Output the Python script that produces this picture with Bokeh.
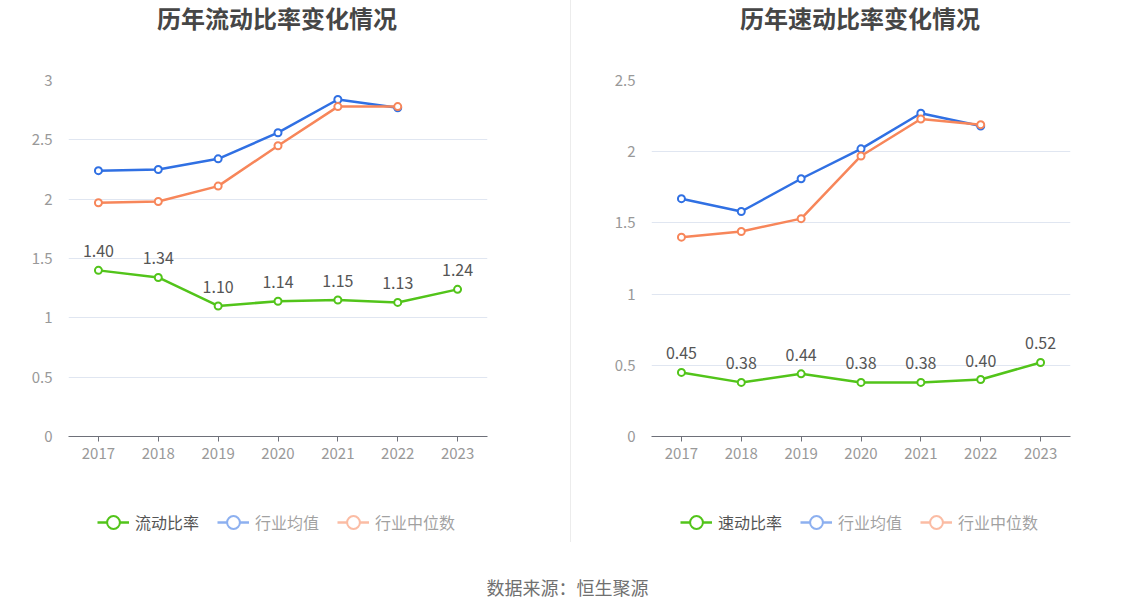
from bokeh.plotting import figure
from bokeh.models import (ColumnDataSource, Legend, LegendItem, Range1d, FixedTicker,
                          CustomJSTickFormatter, Div, Label)
from bokeh.layouts import row, column
from bokeh.embed import file_html
from bokeh.resources import INLINE
from bokeh.core.properties import value

years = ["2017", "2018", "2019", "2020", "2021", "2022", "2023"]
mean_years = ["2017", "2018", "2019", "2020", "2021", "2022"]

current_ratio = [1.40, 1.34, 1.10, 1.14, 1.15, 1.13, 1.24]
current_ind_mean = [2.24, 2.25, 2.34, 2.56, 2.84, 2.77]
current_ind_median = [1.97, 1.98, 2.11, 2.45, 2.78, 2.78]

quick_ratio = [0.45, 0.38, 0.44, 0.38, 0.38, 0.40, 0.52]
quick_ind_mean = [1.67, 1.58, 1.81, 2.02, 2.27, 2.18]
quick_ind_median = [1.40, 1.44, 1.53, 1.97, 2.23, 2.19]

current_ticks = [0, 0.5, 1, 1.5, 2, 2.5, 3]
quick_ticks = [0, 0.5, 1, 1.5, 2, 2.5]

FONT = "Noto Sans CJK SC"
GREEN = "#52c41a"
BLUE = "#3070e3"
ORANGE = "#f7865a"
FRAME_W = 419


def blank(width, height, xr, yr, left=0, right=0):
    f = figure(width=width, height=height, x_range=Range1d(0, xr), y_range=Range1d(0, yr),
               output_backend="svg", toolbar_location=None, tools="",
               min_border_left=left, min_border_right=right,
               min_border_top=0, min_border_bottom=0)
    f.axis.visible = False
    f.grid.visible = False
    f.outline_line_color = None
    return f


def make_chart(title, name, vals, mean, median, ymax, ticks, width, left, right):
    # header with title
    h = blank(width, 40, FRAME_W, 40, left, right)
    h.add_layout(Label(x=FRAME_W / 2 - 1, y=23, text=title, text_align="center",
                       text_baseline="middle", text_font=FONT, text_font_size="24px",
                       text_font_style="bold", text_color="#464646"))

    p = figure(x_range=years, y_range=Range1d(0, ymax), width=width, height=440,
               min_border_left=left, min_border_right=right,
               min_border_top=40, min_border_bottom=44,
               output_backend="svg", toolbar_location=None, tools="")
    p.outline_line_color = None

    p.xgrid.grid_line_color = None
    p.ygrid.grid_line_color = "#e0e6f1"
    p.ygrid.grid_line_width = 1

    p.yaxis.ticker = FixedTicker(ticks=ticks)
    p.yaxis.formatter = CustomJSTickFormatter(code="return tick.toString();")
    p.yaxis.axis_line_color = None
    p.yaxis.major_tick_line_color = None
    p.yaxis.minor_tick_line_color = None
    p.yaxis.major_label_text_color = "#999999"
    p.yaxis.major_label_text_font = FONT
    p.yaxis.major_label_text_font_size = "15px"
    p.yaxis.major_label_standoff = 10

    p.xaxis.axis_line_color = "#6e7079"
    p.xaxis.major_tick_line_color = "#6e7079"
    p.xaxis.major_tick_in = 0
    p.xaxis.major_tick_out = 5
    p.xaxis.minor_tick_line_color = None
    p.xaxis.major_label_text_color = "#999999"
    p.xaxis.major_label_text_font = FONT
    p.xaxis.major_label_text_font_size = "15px"
    p.xaxis.major_label_standoff = 6

    for ys, c in ((mean, BLUE), (median, ORANGE)):
        src = ColumnDataSource(dict(x=mean_years, y=ys))
        p.line("x", "y", source=src, line_color=c, line_width=2.5)
        p.scatter("x", "y", source=src, size=7, fill_color="white", line_color=c, line_width=2)

    src = ColumnDataSource(dict(x=years, y=vals, t=["%.2f" % v for v in vals]))
    p.line("x", "y", source=src, line_color=GREEN, line_width=2.5)
    p.scatter("x", "y", source=src, size=7, fill_color="white", line_color=GREEN, line_width=2)
    p.text("x", "y", text="t", source=src, y_offset=-13, text_align="center",
           text_baseline="bottom", text_font=value(FONT), text_font_size="16px",
           text_color="#555555")

    # legend row
    lf = blank(width, 68, FRAME_W, 68, left, right)
    items = []
    for lab, c, vis in ((name, GREEN, True), ("行业均值", BLUE, False), ("行业中位数", ORANGE, False)):
        esrc = ColumnDataSource(dict(x=[float("nan")], y=[float("nan")]))
        l = lf.line("x", "y", source=esrc, line_color=c, line_width=2.5)
        s = lf.scatter("x", "y", source=esrc, fill_color="white", line_color=c, line_width=2)
        l.visible = vis
        s.visible = vis
        items.append(LegendItem(label=lab, renderers=[l, s]))
    leg = Legend(items=items, orientation="horizontal", location=(29, 10),
                 click_policy="hide", inactive_fill_color="white", inactive_fill_alpha=0.45,
                 glyph_width=32, glyph_height=32, label_standoff=6, spacing=18,
                 padding=0, margin=0, border_line_color=None, background_fill_alpha=0,
                 label_text_font=FONT, label_text_font_size="16px", label_text_color="#555555")
    lf.add_layout(leg, "center")
    return column(h, p, lf, spacing=0)


c1 = make_chart("历年流动比率变化情况", "流动比率", current_ratio, current_ind_mean,
                current_ind_median, 3, current_ticks, 570, 68, 83)
c2 = make_chart("历年速动比率变化情况", "速动比率", quick_ratio, quick_ind_mean,
                quick_ind_median, 2.5, quick_ticks, 563, 80, 64)

divider = Div(width=1, height=542, margin=0, styles={"background-color": "#ececec"})

p3 = blank(1134, 56, 1, 1)
p3.add_layout(Label(x=0.5, y=0.32, text="数据来源：恒生聚源", text_align="center",
                    text_baseline="middle", text_font=FONT, text_font_size="18px",
                    text_color="#707070"))

layout = column(row(c1, divider, c2, spacing=0), p3, spacing=0)

open("out.html", "w").write(file_html(layout, INLINE))
